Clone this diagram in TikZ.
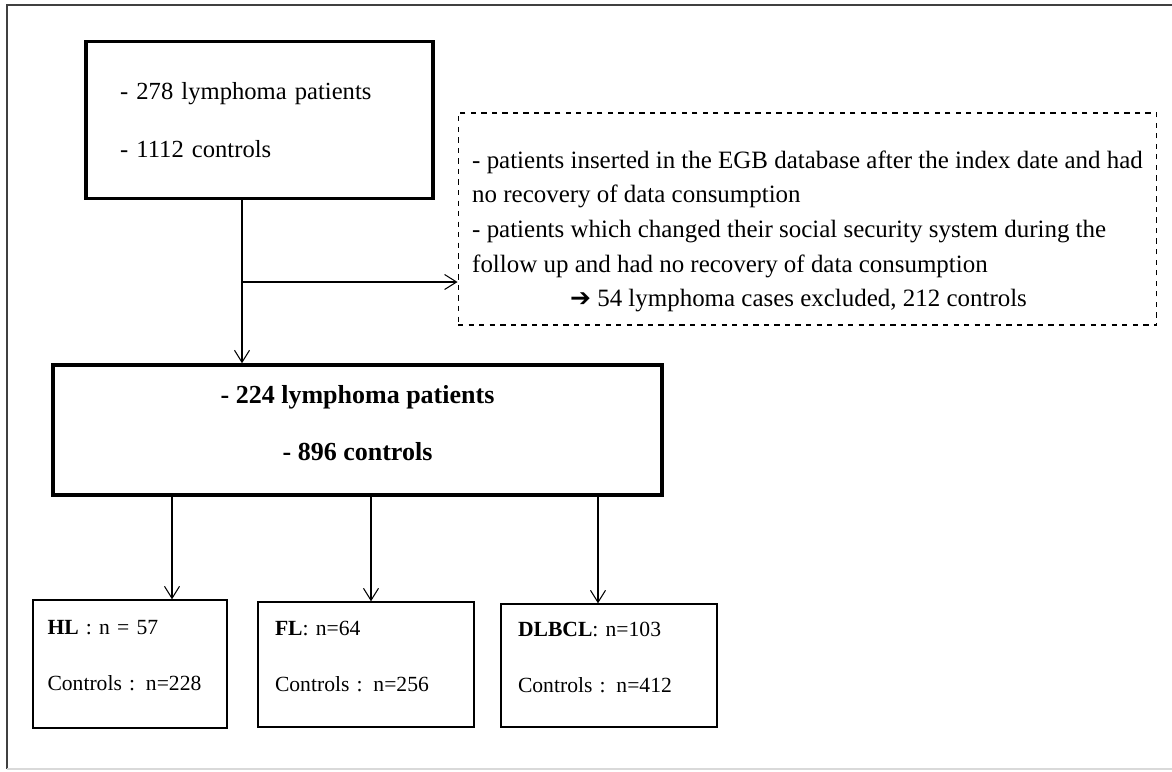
\documentclass[tikz,border=0pt]{standalone}
\usepackage{fontspec}
\setmainfont{Liberation Serif}
\newfontfamily\arrowfont{DejaVu Sans}
\usepackage{tikz}
\usetikzlibrary{arrows.meta}
\tikzset{thickbox/.style={draw,line width=2pt,inner sep=0pt,font=\fontsize{14}{17}\selectfont},
	dashbox/.style={draw,dashed,line width=0.6pt,inner sep=0pt,align=left,font=\fontsize{14.2}{19.7}\selectfont},
	groupbox/.style={draw,line width=0.8pt,inner sep=0pt,align=left,text width=#1,font=\fontsize{12.3}{15}\selectfont}}

\begin{document}
\begin{tikzpicture}[x=0.02cm,y=-0.02cm,>={Straight Barb[length=2.4mm,width=3mm]}]
	\useasboundingbox (0,0) rectangle (1172,771);
	\draw[line width=0.9pt,black!75] (7,769) -- (7,5) -- (1172,5);
	\draw[line width=0.6pt,black!15] (7,769) -- (1172,769);
	%
	\node[thickbox,minimum width=6.94cm,minimum height=3.14cm,text width=5.58cm,align=left] (A) at (259.5,120) {- 278 lymphoma patients\\[16pt]- 1112 controls};
	\node[dashbox,minimum width=13.98cm,minimum height=4.24cm] (E) at (807.5,219) {\rule{0pt}{24pt}- patients inserted in the EGB database after the index date and had\\no recovery of data consumption\\- patients which changed their social security system during the\\follow up and had no recovery of data consumption\\\hspace*{1.96cm}{\arrowfont ➔} 54 lymphoma cases excluded, 212 controls};
	\node[thickbox,minimum width=12.18cm,minimum height=2.6cm,align=center,font=\fontsize{14.8}{17}\selectfont\bfseries] (B) at (357.5,430) {- 224 lymphoma patients\\[15pt]- 896 controls\rule[-8pt]{0pt}{0pt}};
	\node[groupbox=3.3cm,minimum width=3.88cm,minimum height=2.56cm] (HL) at (130,664) {\textbf{HL} : n = 57\\[17pt]Controls : n=228\rule[-10pt]{0pt}{0pt}};
	\node[groupbox=3.64cm,minimum width=4.32cm,minimum height=2.5cm] (FL) at (366,664.5) {\textbf{FL}: n=64\\[17pt]Controls : n=256\rule[-9pt]{0pt}{0pt}};
	\node[groupbox=3.64cm,minimum width=4.32cm,minimum height=2.46cm] (DL) at (609,665.5) {\textbf{DLBCL}: n=103\\[17pt]Controls : n=412\rule[-9pt]{0pt}{0pt}};
	%
	\coordinate (split) at (242,282);
	\coordinate (c1) at (172,540);
	\coordinate (c2) at (371,540);
	\coordinate (c3) at (598,540);
	\path[->,line width=0.6pt]
	(A.south -| split) edge (B.north -| split)
	(split) edge (split -| E.west)
	(B.south -| c1) edge (HL.north -| c1)
	(B.south -| c2) edge (FL.north -| c2)
	(B.south -| c3) edge (DL.north -| c3);
\end{tikzpicture}
\end{document}
